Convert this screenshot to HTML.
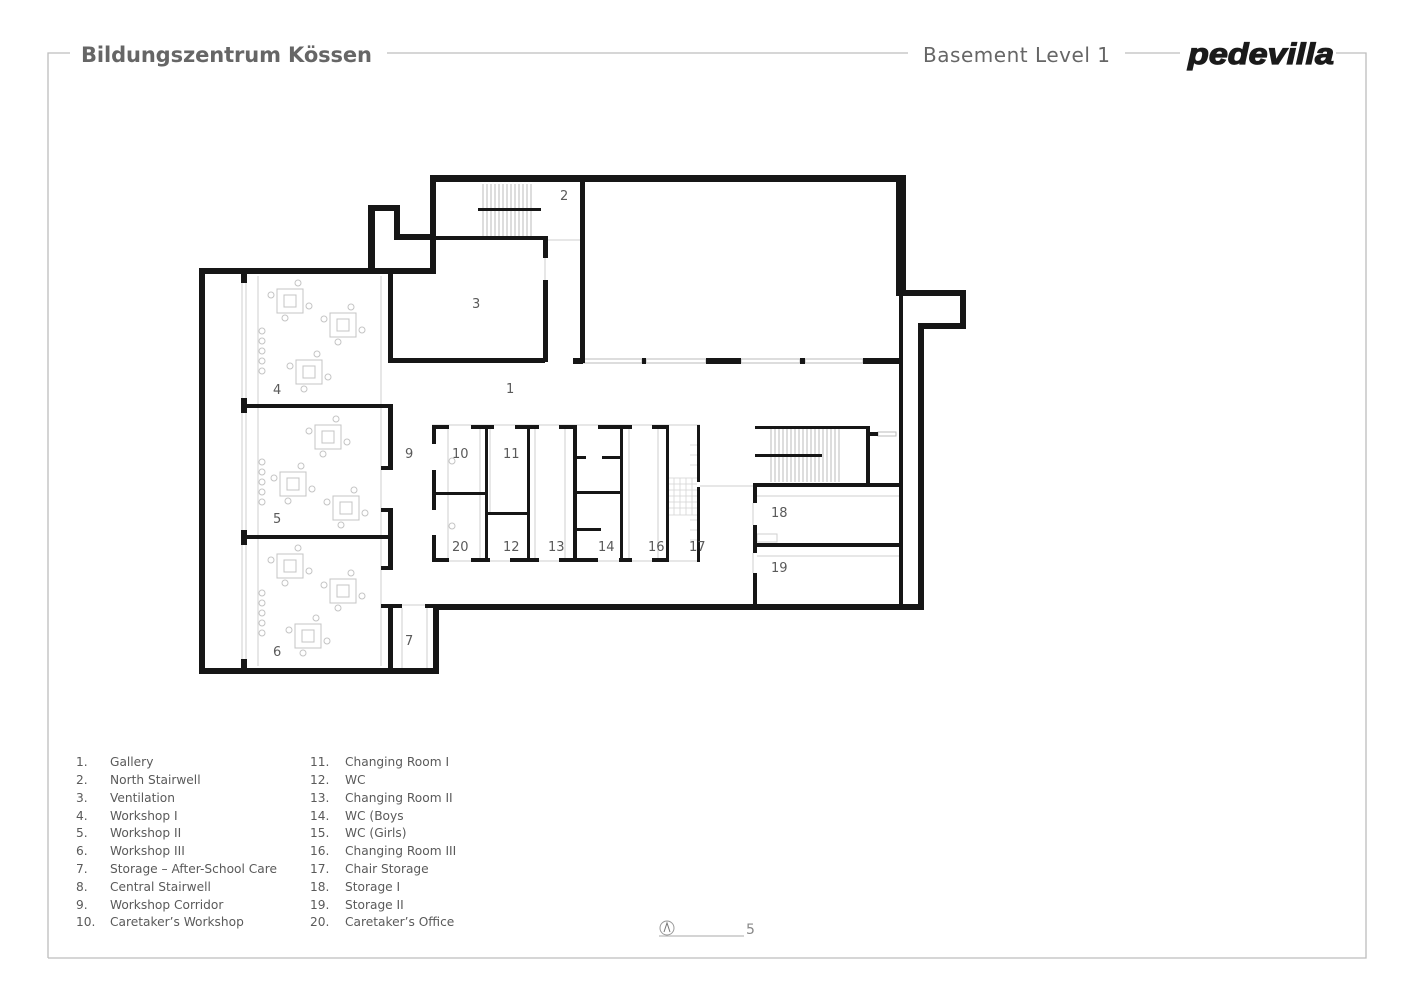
<!DOCTYPE html>
<html><head><meta charset="utf-8"><style>
html,body{margin:0;padding:0;background:#fff;}
svg{display:block;}
text{font-family:"DejaVu Sans","Liberation Sans",sans-serif;fill:#5a5a5a;}
</style></head><body>
<svg width="1414" height="1000" viewBox="0 0 1414 1000" xmlns="http://www.w3.org/2000/svg">
<defs>
<g id="t"><rect x="-13" y="-12" width="26" height="24"/><rect x="-6" y="-6" width="12" height="12"/><circle cx="-19" cy="-6" r="3"/><circle cx="8" cy="-18" r="3"/><circle cx="19" cy="5" r="3"/><circle cx="-5" cy="17" r="3"/></g>
</defs>
<rect width="1414" height="1000" fill="#fff"/>
<g stroke="#bdbdbd" stroke-width="1.3" fill="none">
<path d="M48,958 V53 H70 M387,53 H908 M1125,53 H1180 M1336,53 H1366 V958 H48"/>
</g>
<text x="81" y="62" font-size="21" font-weight="bold" textLength="291" style="fill:#666">Bildungszentrum Kössen</text>
<text x="923" y="62" font-size="20" textLength="187" style="fill:#666">Basement Level 1</text>
<text x="1188" y="64" font-size="30" font-weight="bold" font-style="italic" textLength="146" lengthAdjust="spacingAndGlyphs" style="fill:#1a1a1a;font-family:'Liberation Sans',sans-serif;stroke:#1a1a1a;stroke-width:1.2">pedevilla</text>

<g stroke="#cfcfcf" stroke-width="1" fill="none">
<line x1="242" y1="283" x2="242" y2="398"/><line x1="246" y1="283" x2="246" y2="398"/>
<line x1="242" y1="413" x2="242" y2="530"/><line x1="246" y1="413" x2="246" y2="530"/>
<line x1="242" y1="545" x2="242" y2="659"/><line x1="246" y1="545" x2="246" y2="659"/>
<line x1="258" y1="276" x2="258" y2="666"/><line x1="381" y1="276" x2="381" y2="666"/>
<line x1="548" y1="240" x2="580" y2="240"/>
<line x1="545" y1="258" x2="545" y2="280"/>
<line x1="700" y1="486" x2="753" y2="486"/>
<line x1="757" y1="496" x2="900" y2="496"/><line x1="757" y1="556" x2="900" y2="556"/>
<line x1="753" y1="503" x2="753" y2="525"/><line x1="753" y1="553" x2="753" y2="573"/>
<line x1="448" y1="428" x2="448" y2="558"/><line x1="480" y1="428" x2="480" y2="558"/>
<line x1="490" y1="428" x2="490" y2="512"/>
<line x1="535" y1="428" x2="535" y2="558"/><line x1="565" y1="428" x2="565" y2="558"/>
<line x1="629" y1="428" x2="629" y2="558"/><line x1="658" y1="428" x2="658" y2="558"/>
<line x1="432" y1="425" x2="700" y2="425"/><line x1="432" y1="561" x2="700" y2="561"/>
<line x1="402" y1="605" x2="425" y2="605"/>
<line x1="402" y1="608" x2="402" y2="668"/><line x1="427" y1="608" x2="427" y2="668"/>
<line x1="381" y1="364" x2="381" y2="404"/>
<rect x="757" y="534" width="20" height="8"/>
</g>
<g fill="#fff" stroke="#bbb" stroke-width="1">
<rect x="583" y="359" width="59" height="4"/><rect x="646" y="359" width="60" height="4"/>
<rect x="741" y="359" width="59" height="4"/><rect x="805" y="359" width="58" height="4"/>
<rect x="878" y="432" width="18" height="4"/>
</g>
<g stroke="#aaa" stroke-width="0.8">
<line x1="483" y1="184" x2="483" y2="236"/><line x1="487" y1="184" x2="487" y2="236"/><line x1="491" y1="184" x2="491" y2="236"/><line x1="495" y1="184" x2="495" y2="236"/><line x1="499" y1="184" x2="499" y2="236"/><line x1="503" y1="184" x2="503" y2="236"/><line x1="507" y1="184" x2="507" y2="236"/><line x1="511" y1="184" x2="511" y2="236"/><line x1="515" y1="184" x2="515" y2="236"/><line x1="519" y1="184" x2="519" y2="236"/><line x1="523" y1="184" x2="523" y2="236"/><line x1="527" y1="184" x2="527" y2="236"/><line x1="531" y1="184" x2="531" y2="236"/>
<line x1="771" y1="429" x2="771" y2="482"/><line x1="775" y1="429" x2="775" y2="482"/><line x1="779" y1="429" x2="779" y2="482"/><line x1="783" y1="429" x2="783" y2="482"/><line x1="787" y1="429" x2="787" y2="482"/><line x1="791" y1="429" x2="791" y2="482"/><line x1="795" y1="429" x2="795" y2="482"/><line x1="799" y1="429" x2="799" y2="482"/><line x1="803" y1="429" x2="803" y2="482"/><line x1="807" y1="429" x2="807" y2="482"/><line x1="811" y1="429" x2="811" y2="482"/><line x1="815" y1="429" x2="815" y2="482"/><line x1="819" y1="429" x2="819" y2="482"/><line x1="823" y1="429" x2="823" y2="482"/><line x1="827" y1="429" x2="827" y2="482"/><line x1="831" y1="429" x2="831" y2="482"/><line x1="835" y1="429" x2="835" y2="482"/><line x1="839" y1="429" x2="839" y2="482"/>
</g>
<g stroke="#d4d4d4" stroke-width="0.8" fill="none">
<path d="M680,478 V515 M686,478 V515 M692,478 V515 M668,478 V515 M674,478 V515 M668,478 H697 M668,484 H697 M668,490 H697 M668,496 H697 M668,502 H697 M668,508 H697 M668,515 H697"/>
<path d="M690,445 h7 M690,455 h7 M690,465 h7 M690,520 h7 M690,530 h7 M690,540 h7 M690,550 h7" />
</g>
<g stroke="#c4c4c4" stroke-width="1" fill="none">
<use href="#t" x="290" y="301"/><use href="#t" x="343" y="325"/><use href="#t" x="309" y="372"/>
<use href="#t" x="328" y="437"/><use href="#t" x="293" y="484"/><use href="#t" x="346" y="508"/>
<use href="#t" x="290" y="566"/><use href="#t" x="343" y="591"/><use href="#t" x="308" y="636"/>
<circle cx="262" cy="331" r="3"/><circle cx="262" cy="341" r="3"/><circle cx="262" cy="351" r="3"/><circle cx="262" cy="361" r="3"/><circle cx="262" cy="371" r="3"/>
<circle cx="262" cy="462" r="3"/><circle cx="262" cy="472" r="3"/><circle cx="262" cy="482" r="3"/><circle cx="262" cy="492" r="3"/><circle cx="262" cy="502" r="3"/>
<circle cx="262" cy="593" r="3"/><circle cx="262" cy="603" r="3"/><circle cx="262" cy="613" r="3"/><circle cx="262" cy="623" r="3"/><circle cx="262" cy="633" r="3"/>
<circle cx="452" cy="461" r="3"/><circle cx="452" cy="526" r="3"/>
</g>
<g fill="#161616">
<rect x="199" y="268" width="6" height="406"/>
<rect x="199" y="268" width="176" height="6"/>
<rect x="368" y="205" width="7" height="69"/>
<rect x="368" y="205" width="32" height="6"/>
<rect x="394" y="205" width="6" height="35"/>
<rect x="394" y="234" width="42" height="6"/>
<rect x="368" y="268" width="68" height="6"/>
<rect x="430" y="175" width="6" height="99"/>
<rect x="430" y="175" width="476" height="7"/>
<rect x="896" y="175" width="10" height="121"/>
<rect x="900" y="290" width="66" height="6"/>
<rect x="960" y="290" width="6" height="39"/>
<rect x="918" y="323" width="48" height="6"/>
<rect x="918" y="323" width="6" height="287"/>
<rect x="899" y="296" width="4" height="314"/>
<rect x="433" y="604" width="491" height="6"/>
<rect x="433" y="604" width="6" height="70"/>
<rect x="199" y="668" width="240" height="6"/>
<rect x="241" y="274" width="6" height="9"/><rect x="241" y="398" width="6" height="15"/>
<rect x="241" y="530" width="6" height="15"/><rect x="241" y="659" width="6" height="9"/>
<rect x="247" y="404" width="146" height="4"/>
<rect x="247" y="535" width="146" height="4"/>
<rect x="388" y="274" width="5" height="89"/>
<rect x="388" y="404" width="5" height="66"/><rect x="381" y="466" width="12" height="4"/>
<rect x="381" y="508" width="12" height="4"/><rect x="388" y="508" width="5" height="62"/><rect x="381" y="566" width="12" height="4"/>
<rect x="381" y="604" width="21" height="4"/><rect x="425" y="604" width="14" height="4"/>
<rect x="388" y="604" width="5" height="64"/>
<rect x="436" y="236" width="112" height="4"/>
<rect x="543" y="236" width="5" height="22"/>
<rect x="543" y="280" width="5" height="82"/>
<rect x="388" y="358" width="157" height="5"/>
<rect x="580" y="182" width="5" height="181"/>
<rect x="478" y="208" width="63" height="3"/>
<rect x="573" y="358" width="10" height="6"/><rect x="642" y="358" width="4" height="6"/>
<rect x="706" y="358" width="35" height="6"/><rect x="800" y="358" width="5" height="6"/>
<rect x="863" y="358" width="37" height="6"/>
<rect x="432" y="425" width="17" height="4"/><rect x="471" y="425" width="23" height="4"/>
<rect x="515" y="425" width="24" height="4"/><rect x="559" y="425" width="18" height="4"/>
<rect x="598" y="425" width="34" height="4"/><rect x="652" y="425" width="16" height="4"/>
<rect x="697" y="425" width="3" height="4"/>
<rect x="432" y="558" width="17" height="4"/><rect x="471" y="558" width="19" height="4"/>
<rect x="510" y="558" width="29" height="4"/><rect x="559" y="558" width="39" height="4"/>
<rect x="619" y="558" width="13" height="4"/><rect x="652" y="558" width="16" height="4"/>
<rect x="432" y="425" width="4" height="19"/><rect x="432" y="470" width="4" height="40"/><rect x="432" y="535" width="4" height="27"/>
<rect x="485" y="425" width="3" height="137"/>
<rect x="527" y="425" width="3" height="137"/>
<rect x="573" y="425" width="4" height="137"/>
<rect x="620" y="425" width="3" height="137"/>
<rect x="666" y="425" width="3" height="137"/>
<rect x="697" y="425" width="3" height="57"/><rect x="697" y="487" width="3" height="75"/>
<rect x="436" y="492" width="51" height="3"/>
<rect x="487" y="512" width="40" height="3"/>
<rect x="576" y="456" width="10" height="3"/><rect x="602" y="456" width="20" height="3"/>
<rect x="576" y="491" width="46" height="3"/>
<rect x="576" y="528" width="25" height="3"/>
<rect x="755" y="426" width="113" height="3"/>
<rect x="866" y="426" width="4" height="61"/>
<rect x="870" y="432" width="8" height="4"/>
<rect x="755" y="454" width="67" height="3"/>
<rect x="753" y="483" width="147" height="4"/>
<rect x="753" y="483" width="4" height="20"/><rect x="753" y="525" width="4" height="28"/><rect x="753" y="573" width="4" height="31"/>
<rect x="753" y="543" width="147" height="4"/>
</g>
<g font-size="13">
<text x="560" y="200">2</text><text x="472" y="308">3</text><text x="506" y="393">1</text>
<text x="273" y="394">4</text><text x="273" y="523">5</text><text x="273" y="656">6</text>
<text x="405" y="645">7</text><text x="405" y="458">9</text>
<text x="452" y="458">10</text><text x="503" y="458">11</text>
<text x="452" y="551">20</text><text x="503" y="551">12</text><text x="548" y="551">13</text>
<text x="598" y="551">14</text><text x="648" y="551">16</text><text x="689" y="551">17</text>
<text x="771" y="517">18</text><text x="771" y="572">19</text>
</g>
<g font-size="12.2">
<text x="76" y="766">1.</text><text x="110" y="766">Gallery</text>
<text x="76" y="784">2.</text><text x="110" y="784">North Stairwell</text>
<text x="76" y="802">3.</text><text x="110" y="802">Ventilation</text>
<text x="76" y="820">4.</text><text x="110" y="820">Workshop I</text>
<text x="76" y="837">5.</text><text x="110" y="837">Workshop II</text>
<text x="76" y="855">6.</text><text x="110" y="855">Workshop III</text>
<text x="76" y="873">7.</text><text x="110" y="873">Storage – After-School Care</text>
<text x="76" y="891">8.</text><text x="110" y="891">Central Stairwell</text>
<text x="76" y="909">9.</text><text x="110" y="909">Workshop Corridor</text>
<text x="76" y="926">10.</text><text x="110" y="926">Caretaker’s Workshop</text>
<text x="310" y="766">11.</text><text x="345" y="766">Changing Room I</text>
<text x="310" y="784">12.</text><text x="345" y="784">WC</text>
<text x="310" y="802">13.</text><text x="345" y="802">Changing Room II</text>
<text x="310" y="820">14.</text><text x="345" y="820">WC (Boys</text>
<text x="310" y="837">15.</text><text x="345" y="837">WC (Girls)</text>
<text x="310" y="855">16.</text><text x="345" y="855">Changing Room III</text>
<text x="310" y="873">17.</text><text x="345" y="873">Chair Storage</text>
<text x="310" y="891">18.</text><text x="345" y="891">Storage I</text>
<text x="310" y="909">19.</text><text x="345" y="909">Storage II</text>
<text x="310" y="926">20.</text><text x="345" y="926">Caretaker’s Office</text>
</g>
<circle cx="667" cy="928" r="7" fill="none" stroke="#999" stroke-width="1"/>
<path d="M664,932 L667,923 L670,932" fill="none" stroke="#777" stroke-width="1"/>
<line x1="659" y1="936" x2="744" y2="936" stroke="#aaa" stroke-width="1"/>
<text x="746" y="934" font-size="14" style="fill:#888">5</text>
</svg>
</body></html>
